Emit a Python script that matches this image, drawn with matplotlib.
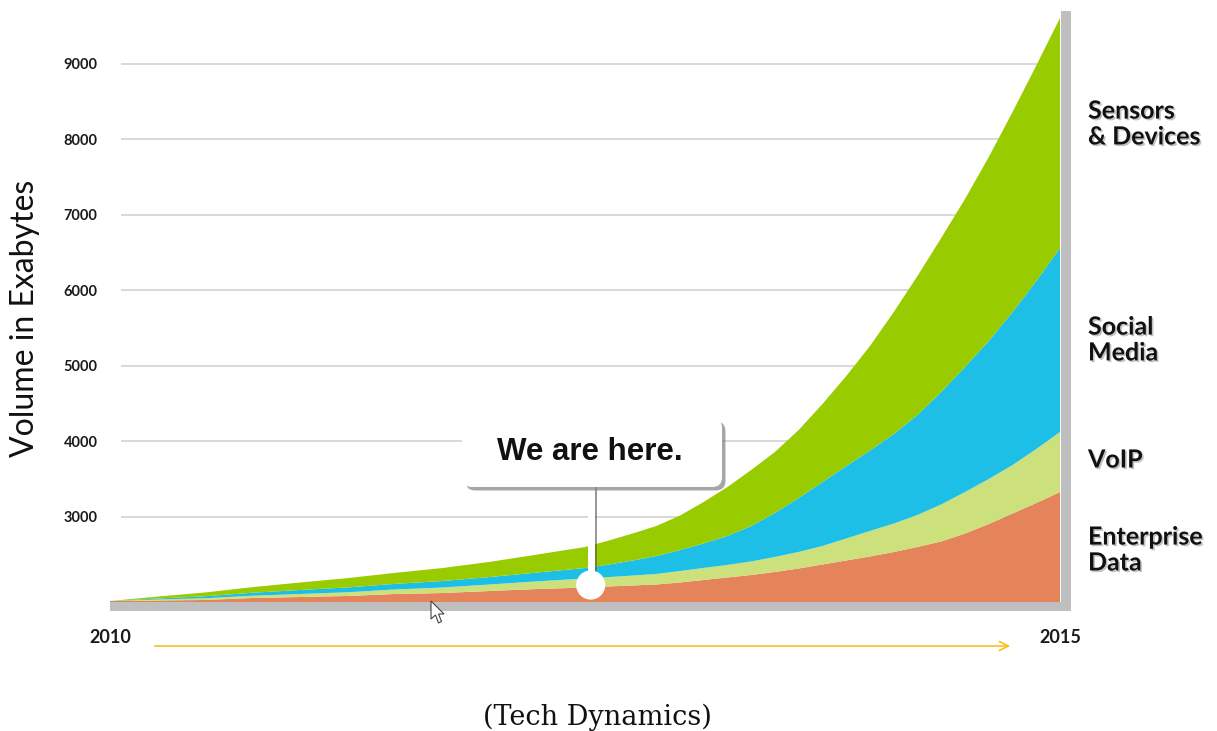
import numpy as np
import matplotlib.pyplot as plt
import matplotlib.patheffects as pe
from matplotlib.patches import Rectangle, FancyBboxPatch, FancyArrowPatch, Polygon

W, H = 1217, 731

# quarter-year steps to mid 2012, eighth-year steps after that
years = np.r_[np.arange(2010, 2012.49, 0.25), np.arange(2012.5, 2015.01, 0.125)]

# Volume per segment (exabytes), stacked bottom to top
enterprise = [1887, 1894, 1901, 1927, 1940, 1954, 1980, 1993, 2020, 2046,
              2066, 2080, 2093, 2106, 2132, 2166, 2199, 2232, 2272, 2318, 2371,
              2424, 2477, 2536, 2603, 2676, 2781, 2907, 3046, 3185, 3331]
voip = [0, 13, 23, 30, 40, 49, 60, 73, 86, 102,
        119, 124, 131, 139, 152, 159, 166, 179, 199, 219, 245,
        291, 338, 377, 424, 490, 550, 596, 642, 715, 795]
social = [0, 13, 26, 40, 53, 64, 74, 86, 99, 117,
          139, 166, 199, 238, 278, 325, 384, 470, 583, 715, 848,
          960, 1066, 1185, 1325, 1490, 1656, 1828, 2026, 2225, 2437]
sensors = [0, 26, 50, 74, 99, 123, 146, 172, 201, 238,
           278, 318, 358, 397, 457, 550, 649, 742, 808, 901, 1033,
           1192, 1384, 1616, 1841, 2040, 2225, 2437, 2649, 2854, 3046]

labels = ['Enterprise\nData', 'VoIP', 'Social\nMedia', 'Sensors\n& Devices']
colors = ['#e5845a', '#cce17b', '#1dbfe6', '#99cc00']
y_ticks = [3000, 4000, 5000, 6000, 7000, 8000, 9000]

# "We are here." point
here_year = 2012.53
here_value = 2099


def fpx(x, y):
    # pixel position (from top-left) -> figure fraction
    return x / W, 1 - y / H


fig = plt.figure(figsize=(W / 100, H / 100), dpi=100)
ax = fig.add_axes([110 / W, 1 - 602 / H, 950 / W, 591 / H])
ax.set_xlim(2010, 2015)
ax.set_ylim(1874, 9702)

ax.hlines(y_ticks, 2010.058, 2015, color='#d2d2d2', lw=1.2, zorder=0)
ax.stackplot(years, enterprise, voip, social, sensors, colors=colors, lw=0, zorder=1)

for s in ax.spines.values():
    s.set_visible(False)
ax.set_yticks(y_ticks)
ax.set_yticklabels([str(v) for v in y_ticks], fontfamily='Lato', fontweight='bold',
                   fontsize=10.5, color='#1a1a1a')
ax.set_xticks([2010, 2015])
ax.set_xticklabels(['2010', '2015'], fontfamily='Lato', fontweight='bold',
                   fontsize=13, color='#1a1a1a')
ax.tick_params(axis='y', length=0, pad=9)
ax.tick_params(axis='x', length=0, pad=19.5)

# grey frame along the bottom and right edge
for x0, y0, x1, y1 in [(110, 602, 1071, 611), (1061, 11, 1071, 611)]:
    fig.add_artist(Rectangle(fpx(x0, y1), (x1 - x0) / W, (y1 - y0) / H,
                             transform=fig.transFigure, color='#bfbfbf', lw=0, zorder=3))

# callout marker
shadow = [pe.SimpleLineShadow(offset=(2, -1.5), shadow_color='#555555', alpha=0.6), pe.Normal()]
ax.plot([here_year, here_year], [here_value, 3480], color='white', lw=5,
        solid_capstyle='butt', path_effects=shadow, zorder=4)
ax.plot(here_year, here_value, 'o', color='white', ms=21, mew=0, zorder=5,
        path_effects=shadow)

bx, by = fpx(462, 487)
box = FancyBboxPatch((bx, by), 260 / W, 69 / H, transform=fig.transFigure,
                     boxstyle='round,pad=0,rounding_size=0.008', mutation_aspect=W / H,
                     fc='white', ec='none', zorder=6,
                     path_effects=[pe.SimplePatchShadow(offset=(2.5, -2.5), shadow_rgbFace='#808080',
                                                        alpha=0.7), pe.Normal()])
fig.add_artist(box)
fig.text(*fpx(590, 452), 'We are here.', ha='center', va='center', fontsize=22.5,
         fontweight='bold', fontfamily='Liberation Sans', color='#111111', zorder=7)

# series names on the right
txt_fx = [pe.withSimplePatchShadow(offset=(1.2, -1.2), shadow_rgbFace='#888888', alpha=0.5)]
for text, ypix in zip(labels, [550, 460, 340, 124]):
    fig.text(*fpx(1088, ypix), text, ha='left', va='center', fontsize=18,
             fontfamily='Lato', fontweight='bold', color='#111111',
             linespacing=1.15, path_effects=txt_fx)

fig.text(*fpx(25, 318), 'Volume in Exabytes', rotation=90, ha='center', va='center',
         fontsize=23, fontfamily='Lato', color='#111111')

# timeline arrow under the axis
fig.add_artist(FancyArrowPatch(fpx(152, 646), fpx(1013, 646), transform=fig.transFigure,
                               arrowstyle='->', mutation_scale=16, color='#f7c21c', lw=1.2))

# mouse pointer
cursor = [(431, 601), (431, 619), (435.5, 615), (438.5, 623), (441.5, 621.5),
          (438.5, 614), (444, 614)]
fig.add_artist(Polygon([fpx(x, y) for x, y in cursor], closed=True, transform=fig.transFigure,
                       fc='white', ec='#444444', lw=0.8, zorder=8))

fig.text(*fpx(597, 725), '(Tech Dynamics)', ha='center', va='baseline', fontsize=19.5,
         fontfamily='DejaVu Serif', color='#111111')

fig.savefig('out.png', dpi=100)
